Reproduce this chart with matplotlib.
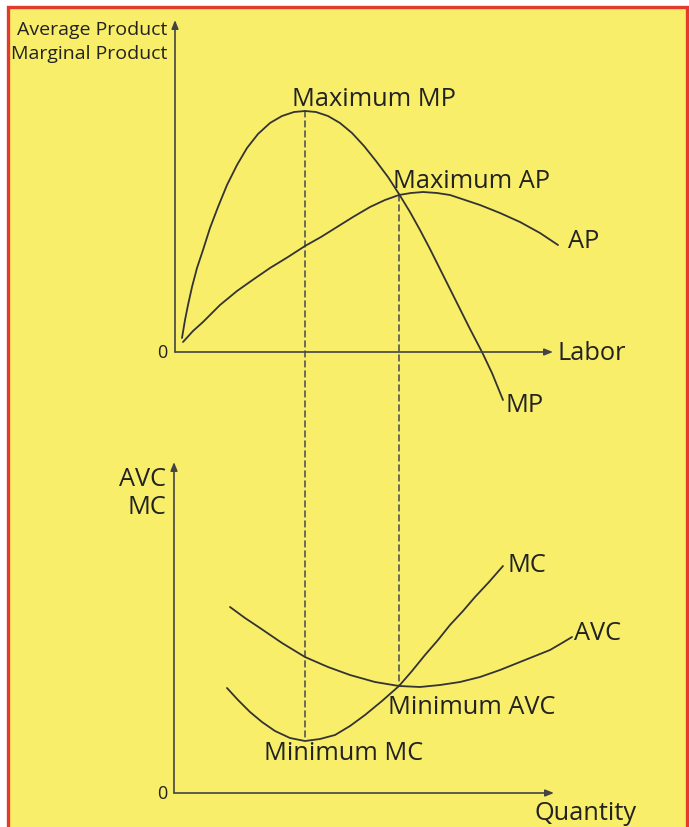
import matplotlib.pyplot as plt
from matplotlib.patches import Rectangle, ConnectionPatch

plt.rcParams['font.family'] = ['Open Sans', 'DejaVu Sans']

# top panel: product of labor (origin of the axes = 0,0)
mp_x = [7, 10, 13, 17, 22, 28, 35, 43, 52, 62, 72, 83, 95, 107, 119, 130, 141, 153, 165, 177,
        189, 201, 213, 224, 235, 245, 255, 265, 275, 285, 295, 307, 317, 328]
mp_y = [14, 32, 47, 65, 84, 102, 124, 145, 167, 187, 204, 218, 229, 236, 240, 241, 240, 236, 229, 219,
        206, 191, 175, 158, 140, 122, 103, 83, 63, 43, 23, 0, -21, -48]
ap_x = [8, 18, 28, 45, 62, 79, 95, 113, 130, 146, 162, 178, 195, 210, 224, 236, 248, 262, 275, 290,
        305, 325, 345, 365, 383]
ap_y = [10, 21, 30, 47, 61, 73, 84, 95, 106, 115, 125, 135, 145, 152, 157, 159, 160, 159, 157, 152,
        147, 139, 130, 119, 107]

# bottom panel: costs of quantity
mc_x = [53, 64, 76, 88, 101, 116, 131, 146, 161, 176, 191, 208, 225, 238, 251, 264, 276, 289, 301, 315, 329]
mc_y = [105, 93, 81, 71, 62, 55, 52, 54, 58, 67, 78, 92, 107, 122, 138, 153, 168, 182, 196, 211, 227]
avc_x = [56, 71, 86, 108, 131, 154, 176, 201, 225, 246, 266, 286, 306, 326, 346, 361, 376, 388, 398]
avc_y = [186, 175, 165, 150, 136, 126, 118, 111, 107, 106, 108, 111, 116, 123, 131, 137, 143, 150, 156]

# points joined between panels: (top x, top y) -> (bottom x, bottom y)
links = [((130, 241), (131, 52)), ((224, 157), (225, 107))]

W, H = 689, 827
fig = plt.figure(figsize=(W / 100, H / 100), dpi=100)
fig.patch.set_facecolor('white')
fig.patches.append(Rectangle((8 / W, -0.01), 679 / W, 1 - 7 / H + 0.01,
                             transform=fig.transFigure, facecolor='#f8ee6a',
                             edgecolor='#e33b2b', linewidth=2.4, zorder=-10))

# both axes cover the whole figure; origin in pixels sets the limits
def make_axes(ox, oy):
    ax = fig.add_axes([0, 0, 1, 1])
    ax.set_xlim(-ox, W - ox)
    ax.set_ylim(oy - H, oy)
    ax.set_axis_off()
    ax.patch.set_alpha(0)
    ax.set_zorder(1)
    return ax

ax1 = make_axes(175, 352)
ax2 = make_axes(174, 793)

curve = dict(color='#333333', lw=1.3, solid_capstyle='round', solid_joinstyle='round')
axis_arrow = dict(arrowstyle='-|>,head_length=0.5,head_width=0.2', color='#444444', lw=1.2,
                  shrinkA=0, shrinkB=0)
fs = 18.3
tc = '#222222'

# top panel
ax1.annotate('', xy=(0, 332), xytext=(0, 0), arrowprops=axis_arrow)
ax1.annotate('', xy=(378, 0), xytext=(0, 0), arrowprops=axis_arrow)
ax1.plot(mp_x, mp_y, **curve)
ax1.plot(ap_x, ap_y, **curve)
ax1.text(-8, 322, 'Average Product', ha='right', va='center', fontsize=14, color=tc)
ax1.text(-8, 298, 'Marginal Product', ha='right', va='center', fontsize=14, color=tc)
ax1.text(-13, -1, '0', ha='center', va='center', fontsize=13, color=tc)
ax1.text(382, -2, 'Labor', ha='left', va='center', fontsize=fs, color=tc)
ax1.text(117, 253, 'Maximum MP', ha='left', va='center', fontsize=fs, color=tc)
ax1.text(218, 171, 'Maximum AP', ha='left', va='center', fontsize=fs, color=tc)
ax1.text(393, 110, 'AP', ha='left', va='center', fontsize=fs, color=tc)
ax1.text(330, -53, 'MP', ha='left', va='center', fontsize=fs, color=tc)

# bottom panel
ax2.annotate('', xy=(0, 331), xytext=(0, 0), arrowprops=axis_arrow)
ax2.annotate('', xy=(380, 0), xytext=(0, 0), arrowprops=axis_arrow)
ax2.plot(mc_x, mc_y, **curve)
ax2.plot(avc_x, avc_y, **curve)
ax2.text(-8, 314, 'AVC', ha='right', va='center', fontsize=fs, color=tc)
ax2.text(-8, 286, 'MC', ha='right', va='center', fontsize=fs, color=tc)
ax2.text(-12, -1, '0', ha='center', va='center', fontsize=13, color=tc)
ax2.text(361, -21, 'Quantity', ha='left', va='center', fontsize=fs, color=tc)
ax2.text(333, 227, 'MC', ha='left', va='center', fontsize=fs, color=tc)
ax2.text(400, 160, 'AVC', ha='left', va='center', fontsize=fs, color=tc)
ax2.text(214, 86, 'Minimum AVC', ha='left', va='center', fontsize=fs, color=tc)
ax2.text(90, 40, 'Minimum MC', ha='left', va='center', fontsize=fs, color=tc)

for top, bottom in links:
    con = ConnectionPatch(xyA=top, coordsA=ax1.transData, xyB=bottom, coordsB=ax2.transData,
                          color='#555555', lw=1.2, linestyle=(0, (3.5, 2.5)))
    fig.add_artist(con)

fig.savefig('out.png', dpi=100)
